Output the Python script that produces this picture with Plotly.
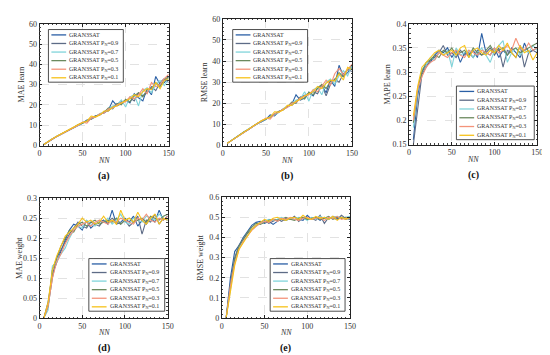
import plotly.graph_objects as go

W, H = 550, 355

NN = [5, 10, 15, 20, 25, 30, 35, 40, 45, 50, 55, 60, 65, 70, 75,
      80, 85, 90, 95, 100, 105, 110, 115, 120, 125, 130, 135, 140, 145, 150]

series_names = ["GRAN3SAT", "GRAN3SAT P<sub>N</sub>=0.9", "GRAN3SAT P<sub>N</sub>=0.7",
                "GRAN3SAT P<sub>N</sub>=0.5", "GRAN3SAT P<sub>N</sub>=0.3", "GRAN3SAT P<sub>N</sub>=0.1"]
series_colors = ["#2a5fa5", "#5d6b86", "#80d4da", "#6b8a5e", "#f4937a", "#f7c21a"]

# (a) MAE learn
mae_learn = [
    [0.5,2.0,3.3,4.5,5.6,6.8,7.9,8.9,10.2,11.0,12.6,13.0,14.2,15.5,16.0,17.5,22.0,19.5,20.5,22.5,21.0,25.5,23.5,22.0,28.0,25.0,34.0,30.0,31.0,34.0],
    [0.5,1.9,3.2,4.4,5.5,6.6,7.8,9.0,10.0,11.3,11.8,13.5,14.6,15.0,16.8,17.0,19.0,20.5,21.5,22.0,23.5,22.0,26.0,24.5,26.0,29.0,27.0,31.0,33.0,31.0],
    [0.5,2.0,3.4,4.5,5.6,6.9,7.8,9.1,10.1,11.2,12.0,13.2,14.0,15.8,16.5,17.8,19.5,20.0,22.5,19.0,24.0,25.0,19.5,27.0,28.5,26.0,30.0,32.0,29.5,33.0],
    [0.5,2.0,3.3,4.6,5.7,6.7,8.0,9.0,10.3,11.0,12.2,13.0,14.5,15.2,16.3,18.5,18.0,20.8,20.0,22.8,21.5,24.5,26.0,24.0,27.5,28.0,31.0,29.0,32.5,34.0],
    [0.5,2.0,3.2,4.4,5.5,6.8,7.6,8.8,10.0,11.5,11.0,13.5,14.0,15.6,16.0,18.0,18.5,20.0,21.0,21.5,24.0,23.0,25.0,28.0,25.5,31.0,29.0,30.0,33.0,35.0],
    [0.5,2.1,3.4,4.6,5.8,6.9,8.1,9.2,10.4,11.3,12.0,14.5,14.0,15.0,17.0,17.0,19.0,19.5,21.0,22.0,23.0,25.0,24.0,26.5,28.0,27.5,31.0,28.0,32.0,33.0],
]
# (b) RMSE learn
rmse_learn = [
    [1.0,2.4,3.8,5.2,6.5,7.8,9.0,10.3,11.5,12.3,14.5,14.0,16.0,17.0,18.2,19.5,24.0,21.5,22.5,25.0,23.5,27.5,28.5,25.0,31.0,28.0,38.0,33.0,34.5,37.0],
    [1.0,2.3,3.7,5.0,6.4,7.7,9.1,10.5,11.3,12.7,13.3,15.0,16.2,16.8,18.8,19.0,21.0,22.8,23.8,24.5,25.5,24.5,28.5,23.5,29.0,31.5,30.0,34.0,36.0,35.0],
    [1.0,2.4,3.9,5.2,6.5,7.9,9.0,10.4,11.5,12.5,13.5,14.8,15.6,17.5,18.5,19.8,21.5,22.0,25.5,21.0,26.5,27.5,24.0,30.0,31.5,29.0,33.0,35.5,33.0,38.0],
    [1.0,2.4,3.8,5.3,6.6,7.6,9.2,10.3,11.7,12.5,13.7,14.6,16.2,17.0,18.3,20.5,20.0,23.0,22.0,25.3,24.0,27.0,29.0,27.0,30.5,31.0,34.5,32.5,36.0,38.0],
    [1.0,2.3,3.7,5.0,6.3,7.8,8.8,10.0,11.3,13.0,12.5,15.0,15.8,17.3,18.0,20.0,20.5,22.5,23.5,24.0,26.5,25.5,28.0,31.0,28.5,34.0,36.5,33.5,36.0,38.5],
    [1.0,2.4,3.9,5.3,6.7,7.9,9.3,10.5,11.8,12.8,13.5,16.0,15.8,16.8,19.0,19.0,21.0,21.8,23.5,24.5,25.5,28.0,27.0,29.5,31.0,30.5,34.0,31.0,37.0,36.0],
]
# (c) MAPE learn
mape_learn = [
    [0.16,0.25,0.30,0.315,0.32,0.335,0.345,0.34,0.35,0.33,0.345,0.32,0.34,0.335,0.345,0.33,0.38,0.34,0.335,0.35,0.33,0.345,0.335,0.35,0.34,0.33,0.36,0.34,0.345,0.35],
    [0.15,0.22,0.295,0.31,0.325,0.33,0.34,0.355,0.335,0.34,0.33,0.345,0.335,0.34,0.33,0.345,0.335,0.34,0.35,0.335,0.35,0.31,0.345,0.34,0.33,0.355,0.31,0.34,0.345,0.34],
    [0.185,0.26,0.305,0.315,0.33,0.325,0.34,0.335,0.345,0.31,0.35,0.335,0.34,0.345,0.33,0.34,0.35,0.335,0.32,0.345,0.355,0.365,0.32,0.34,0.35,0.335,0.345,0.34,0.355,0.345],
    [0.195,0.265,0.30,0.32,0.325,0.335,0.33,0.345,0.34,0.35,0.335,0.34,0.345,0.33,0.35,0.34,0.335,0.345,0.355,0.34,0.345,0.35,0.335,0.345,0.35,0.34,0.345,0.35,0.355,0.36],
    [0.20,0.265,0.29,0.31,0.32,0.325,0.34,0.335,0.33,0.34,0.345,0.335,0.33,0.345,0.34,0.335,0.345,0.34,0.335,0.35,0.34,0.345,0.355,0.345,0.37,0.35,0.345,0.36,0.345,0.35],
    [0.21,0.27,0.31,0.32,0.33,0.34,0.345,0.335,0.34,0.345,0.335,0.35,0.355,0.33,0.345,0.35,0.34,0.335,0.345,0.34,0.355,0.345,0.36,0.34,0.33,0.355,0.34,0.345,0.325,0.34],
]
# (d) MAE weight
mae_weight = [
    [0.0,0.04,0.11,0.14,0.17,0.195,0.22,0.235,0.23,0.22,0.245,0.225,0.235,0.24,0.245,0.235,0.27,0.235,0.24,0.25,0.24,0.255,0.23,0.245,0.235,0.25,0.24,0.27,0.245,0.255],
    [0.0,0.03,0.10,0.15,0.17,0.19,0.21,0.225,0.24,0.23,0.225,0.24,0.235,0.23,0.245,0.24,0.25,0.24,0.235,0.245,0.23,0.24,0.255,0.21,0.245,0.24,0.26,0.235,0.25,0.245],
    [0.0,0.02,0.13,0.14,0.16,0.175,0.20,0.22,0.23,0.225,0.245,0.235,0.23,0.245,0.24,0.25,0.235,0.245,0.26,0.24,0.235,0.25,0.245,0.24,0.255,0.25,0.245,0.26,0.25,0.245],
    [0.0,0.03,0.12,0.15,0.18,0.20,0.22,0.215,0.235,0.24,0.23,0.24,0.245,0.235,0.24,0.245,0.24,0.25,0.235,0.245,0.25,0.24,0.245,0.25,0.24,0.255,0.25,0.245,0.255,0.26],
    [0.0,0.03,0.10,0.14,0.16,0.185,0.205,0.22,0.23,0.235,0.24,0.23,0.24,0.245,0.24,0.235,0.245,0.24,0.25,0.245,0.24,0.235,0.25,0.245,0.26,0.245,0.24,0.25,0.245,0.255],
    [0.0,0.04,0.12,0.155,0.18,0.205,0.215,0.225,0.235,0.25,0.24,0.245,0.235,0.24,0.255,0.24,0.245,0.235,0.27,0.245,0.25,0.24,0.265,0.245,0.235,0.25,0.26,0.235,0.25,0.245],
]
# (e) RMSE weight
rmse_weight = [
    [0.0,0.20,0.33,0.36,0.40,0.43,0.46,0.475,0.48,0.47,0.48,0.465,0.48,0.49,0.485,0.495,0.50,0.49,0.485,0.51,0.49,0.50,0.485,0.50,0.49,0.505,0.495,0.50,0.49,0.50],
    [0.0,0.17,0.30,0.36,0.39,0.42,0.44,0.46,0.475,0.485,0.47,0.48,0.49,0.48,0.495,0.49,0.505,0.48,0.50,0.49,0.495,0.485,0.51,0.47,0.50,0.495,0.49,0.51,0.495,0.49],
    [0.0,0.15,0.28,0.35,0.38,0.41,0.44,0.455,0.47,0.48,0.49,0.485,0.49,0.50,0.485,0.495,0.49,0.50,0.495,0.485,0.50,0.49,0.505,0.495,0.49,0.50,0.505,0.495,0.50,0.505],
    [0.0,0.16,0.29,0.355,0.39,0.425,0.45,0.47,0.465,0.475,0.485,0.49,0.485,0.49,0.50,0.49,0.485,0.495,0.50,0.49,0.495,0.50,0.49,0.495,0.505,0.49,0.50,0.495,0.50,0.495],
    [0.0,0.16,0.27,0.34,0.38,0.41,0.435,0.455,0.47,0.48,0.475,0.49,0.48,0.495,0.49,0.50,0.49,0.485,0.495,0.50,0.49,0.495,0.50,0.485,0.50,0.495,0.505,0.49,0.495,0.50],
    [0.0,0.14,0.26,0.34,0.375,0.41,0.44,0.46,0.475,0.49,0.48,0.495,0.50,0.49,0.485,0.495,0.50,0.49,0.51,0.495,0.49,0.505,0.495,0.50,0.49,0.505,0.485,0.50,0.49,0.50],
]

panel_labels = ["(a)", "(b)", "(c)", "(d)", "(e)"]
y_titles = ["MAE learn", "RMSE learn", "MAPE learn", "MAE weight", "RMSE weight"]
y_ranges = [[0, 60], [0, 60], [0.15, 0.4], [0, 0.3], [0, 0.6]]
y_dticks = [10, 10, 0.05, 0.05, 0.1]
x_range = [0, 150]
x_ticks = [0, 50, 100, 150]
all_values = [mae_learn, rmse_learn, mape_learn, mae_weight, rmse_weight]

# pixel layout: axes boxes (left, top, right, bottom), legend boxes, y-title offsets
axes_px = [(30, 12, 161, 137), (216, 7, 347, 137), (405, 12, 535, 136),
           (30, 191, 160, 314), (215, 190, 345, 314)]
legend_px = [(39, 18, 115, 72), (226, 18, 302, 72), (453, 76, 532, 131),
             (80, 253, 157, 307), (264, 253, 340, 307)]
ytitle_off = [18, 19, 22, 21, 22]

FONT = "Liberation Serif, DejaVu Serif, serif"

def fx(p):
    return p / W

def fy(p):
    return 1 - p / H

fig = go.Figure()
layout = dict(width=W, height=H, margin=dict(l=0, r=0, t=0, b=0),
              paper_bgcolor="white", plot_bgcolor="white", showlegend=False,
              font=dict(family=FONT, size=8, color="#333"))
shapes = []
annotations = []

for i in range(5):
    xa = "x" if i == 0 else f"x{i+1}"
    ya = "y" if i == 0 else f"y{i+1}"
    xk = "xaxis" if i == 0 else f"xaxis{i+1}"
    yk = "yaxis" if i == 0 else f"yaxis{i+1}"
    l, t, r, b = axes_px[i]
    layout[xk] = dict(domain=[fx(l), fx(r)], anchor=ya, range=x_range,
                      tickvals=x_ticks, showgrid=True, gridcolor="#e2e2e2",
                      griddash="dash", gridwidth=0.7, zeroline=False,
                      showline=True, linecolor="#222", linewidth=0.8, mirror="allticks",
                      ticks="inside", ticklen=3, tickcolor="#222", tickwidth=0.7,
                      minor=dict(dtick=5, ticks="inside", ticklen=1.5, tickcolor="#444", showgrid=False),
                      tickfont=dict(family=FONT, size=8, color="#333"))
    yr = y_ranges[i]
    layout[yk] = dict(domain=[fy(b), fy(t)], anchor=xa, range=yr,
                      dtick=y_dticks[i], tick0=yr[0], showgrid=True, gridcolor="#e2e2e2",
                      griddash="dash", gridwidth=0.7, zeroline=False,
                      showline=True, linecolor="#222", linewidth=0.8, mirror="allticks",
                      ticks="inside", ticklen=3, tickcolor="#222", tickwidth=0.7,
                      minor=dict(dtick=y_dticks[i] / 5, ticks="inside", ticklen=1.5, tickcolor="#444", showgrid=False),
                      tickfont=dict(family=FONT, size=8, color="#333"))
    for s in range(6):
        fig.add_trace(go.Scatter(x=NN, y=all_values[i][s], mode="lines",
                                 line=dict(color=series_colors[s], width=1.1),
                                 xaxis=xa, yaxis=ya, name=series_names[s],
                                 cliponaxis=True))
    cx = (l + r) / 2
    annotations.append(dict(text="<i>NN</i>", x=fx(cx), y=fy(b + 15), xref="paper", yref="paper",
                            showarrow=False, xanchor="center", yanchor="middle",
                            font=dict(family=FONT, size=8, color="#333")))
    annotations.append(dict(text="<b>" + panel_labels[i] + "</b>", x=fx(cx), y=fy(b + 31),
                            xref="paper", yref="paper", showarrow=False,
                            xanchor="center", yanchor="middle",
                            font=dict(family=FONT, size=10, color="#111")))
    annotations.append(dict(text=y_titles[i], x=fx(l - ytitle_off[i]), y=fy((t + b) / 2),
                            xref="paper", yref="paper",
                            showarrow=False, textangle=-90, xanchor="center", yanchor="middle",
                            font=dict(family=FONT, size=8, color="#333")))
    # legend box
    ll, lt, lr, lb = legend_px[i]
    shapes.append(dict(type="rect", xref="paper", yref="paper", x0=fx(ll), x1=fx(lr),
                       y0=fy(lb), y1=fy(lt), fillcolor="white",
                       line=dict(color="#222", width=0.8), layer="above"))
    row_h = (lb - lt - 10) / 5
    for s in range(6):
        ry = lt + 5.5 + s * row_h
        shapes.append(dict(type="line", xref="paper", yref="paper",
                           x0=fx(ll + 3), x1=fx(ll + 18), y0=fy(ry), y1=fy(ry),
                           line=dict(color=series_colors[s], width=1.3), layer="above"))
        annotations.append(dict(text=series_names[s], x=fx(ll + 19), y=fy(ry), xref="paper", yref="paper",
                                showarrow=False, xanchor="left", yanchor="middle",
                                font=dict(family=FONT, size=6, color="#333")))

layout["shapes"] = shapes
layout["annotations"] = annotations
fig.update_layout(**layout)
fig.write_html("out.html")
